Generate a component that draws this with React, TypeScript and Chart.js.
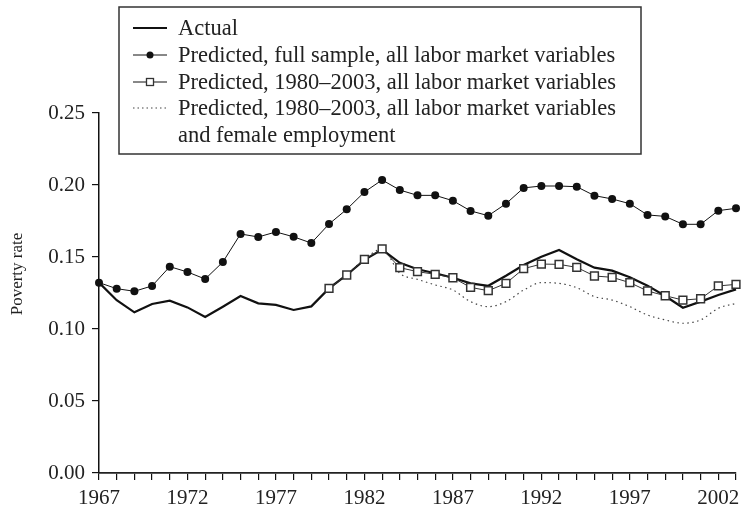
import { useEffect, useRef } from 'react';
import { Chart, registerables } from 'chart.js';

Chart.register(...registerables);

const years = [
  '1967', '1968', '1969', '1970', '1971', '1972', '1973', '1974', '1975', '1976',
  '1977', '1978', '1979', '1980', '1981', '1982', '1983', '1984', '1985', '1986',
  '1987', '1988', '1989', '1990', '1991', '1992', '1993', '1994', '1995', '1996',
  '1997', '1998', '1999', '2000', '2001', '2002', '2003',
];

const actual = [
  0.1322, 0.120, 0.1116, 0.1174, 0.1197, 0.115, 0.1083, 0.1155, 0.1229, 0.1178,
  0.1167, 0.1132, 0.1157, 0.1282, 0.1375, 0.148, 0.1552, 0.146, 0.1415, 0.1387,
  0.1356, 0.1317, 0.130, 0.137, 0.1444, 0.1502, 0.1549, 0.1484, 0.1426, 0.1405,
  0.1359, 0.1301, 0.1229, 0.1148, 0.119, 0.1236, 0.1275,
];

const fullSample = [
  0.1322, 0.128, 0.1262, 0.1299, 0.1433, 0.1396, 0.1347, 0.1465, 0.166, 0.1639,
  0.1674, 0.164, 0.1597, 0.1729, 0.1831, 0.1951, 0.2035, 0.1965, 0.1928, 0.1928,
  0.1891, 0.182, 0.1787, 0.187, 0.198, 0.1993, 0.1993, 0.1988, 0.1926, 0.1903,
  0.187, 0.1792, 0.1782, 0.1727, 0.1727, 0.1822, 0.1838,
];

const sample8003 = [
  null, null, null, null, null, null, null, null, null, null,
  null, null, null, 0.1282, 0.1375, 0.1484, 0.1556, 0.1426, 0.1398, 0.138,
  0.1356, 0.1289, 0.1266, 0.1317, 0.1419, 0.1451, 0.1449, 0.1428, 0.1368, 0.1359,
  0.1322, 0.1264, 0.1231, 0.1201, 0.121, 0.1299, 0.131,
];

const femaleEmp = [
  null, null, null, null, null, null, null, null, null, null,
  null, null, null, 0.1282, 0.1375, 0.1484, 0.1556, 0.1387, 0.1345, 0.1306,
  0.1271, 0.119, 0.1155, 0.119, 0.127, 0.1322, 0.1317, 0.1287, 0.1225, 0.1201,
  0.1155, 0.1097, 0.1063, 0.104, 0.1063, 0.1144, 0.1178,
];

const legendLabels = [
  ['Actual'],
  ['Predicted, full sample, all labor market variables'],
  ['Predicted, 1980\u20132003, all labor market variables'],
  ['Predicted, 1980\u20132003, all labor market variables', 'and female employment'],
];

const yTitle = 'Poverty rate';
const yMin = 0;
const yMax = 0.25;
const yStep = 0.05;
const xLabelEvery = 5;

const FONT = '"Liberation Serif", "Times New Roman", serif';

const overlayPlugin = {
  id: 'overlay',
  afterDraw(chart: any) {
    const ctx = chart.ctx as CanvasRenderingContext2D;
    // y-axis title
    ctx.save();
    ctx.translate(18, 274);
    ctx.rotate(-Math.PI / 2);
    ctx.font = `17px ${FONT}`;
    ctx.textAlign = 'center';
    ctx.textBaseline = 'middle';
    ctx.fillStyle = '#222';
    ctx.fillText(yTitle, 0, 0);
    ctx.restore();

    // legend box
    ctx.save();
    const bx = 119, by = 7, bw = 522, bh = 147;
    ctx.fillStyle = '#fff';
    ctx.fillRect(bx, by, bw, bh);
    ctx.strokeStyle = '#333';
    ctx.lineWidth = 1.5;
    ctx.strokeRect(bx, by, bw, bh);

    const rows = [28, 55, 82, 108];
    const lineGap = 27;
    const sx0 = 133, sx1 = 167, sc = 150;
    ctx.font = `22.5px ${FONT}`;
    ctx.textAlign = 'left';
    ctx.textBaseline = 'middle';
    legendLabels.forEach((lines, i) => {
      const y = rows[i];
      ctx.save();
      ctx.beginPath();
      if (i === 0) {
        ctx.strokeStyle = '#111';
        ctx.lineWidth = 2;
      } else if (i === 1 || i === 2) {
        ctx.strokeStyle = '#111';
        ctx.lineWidth = 1;
      } else {
        ctx.strokeStyle = '#444';
        ctx.lineWidth = 1.2;
        ctx.setLineDash([1.5, 3]);
      }
      ctx.moveTo(sx0, y);
      ctx.lineTo(sx1, y);
      ctx.stroke();
      ctx.setLineDash([]);
      if (i === 1) {
        ctx.beginPath();
        ctx.fillStyle = '#111';
        ctx.arc(sc, y, 3.5, 0, Math.PI * 2);
        ctx.fill();
      } else if (i === 2) {
        ctx.fillStyle = '#fff';
        ctx.strokeStyle = '#333';
        ctx.lineWidth = 1.3;
        ctx.fillRect(sc - 3.5, y - 3.5, 7, 7);
        ctx.strokeRect(sc - 3.5, y - 3.5, 7, 7);
      }
      ctx.restore();
      ctx.fillStyle = '#222';
      lines.forEach((t, j) => ctx.fillText(t, 178, y + 1 + j * lineGap));
    });
    ctx.restore();
  },
};

export default function App() {
  const ref = useRef<HTMLCanvasElement | null>(null);

  useEffect(() => {
    if (!ref.current) return;
    const chart = new Chart(ref.current, {
      type: 'line',
      data: {
        labels: years,
        datasets: [
          {
            label: legendLabels[0].join(' '),
            data: actual,
            borderColor: '#111',
            borderWidth: 2.2,
            pointRadius: 0,
            tension: 0,
            order: 3,
          },
          {
            label: legendLabels[1].join(' '),
            data: fullSample,
            borderColor: '#111',
            borderWidth: 1,
            pointRadius: 4,
            pointStyle: 'circle',
            pointBackgroundColor: '#111',
            pointBorderColor: '#111',
            pointBorderWidth: 0,
            tension: 0,
            order: 1,
          },
          {
            label: legendLabels[2].join(' '),
            data: sample8003,
            borderColor: '#333',
            borderWidth: 1,
            pointRadius: 5.5,
            pointStyle: 'rect',
            pointBackgroundColor: '#fff',
            pointBorderColor: '#333',
            pointBorderWidth: 1.5,
            tension: 0,
            spanGaps: false,
            order: 2,
          },
          {
            label: legendLabels[3].join(' '),
            data: femaleEmp,
            borderColor: '#444',
            borderWidth: 1.2,
            borderDash: [1.5, 3.5],
            pointRadius: 0,
            tension: 0.4,
            cubicInterpolationMode: 'monotone',
            spanGaps: false,
            order: 4,
          },
        ],
      },
      options: {
        animation: false,
        responsive: false,
        maintainAspectRatio: false,
        layout: { padding: { top: 113, right: 5, left: 0, bottom: 0 } },
        plugins: {
          legend: { display: false },
          tooltip: { enabled: false },
          title: { display: false },
        },
        scales: {
          x: {
            type: 'category',
            offset: false,
            afterFit(scale: any) {
              scale.height = 39;
            },
            grid: {
              display: true,
              drawOnChartArea: false,
              drawTicks: true,
              tickLength: 7,
              color: '#111',
              lineWidth: 1.2,
            },
            border: { display: true, color: '#222', width: 1.8 },
            ticks: {
              autoSkip: false,
              maxRotation: 0,
              minRotation: 0,
              padding: 6,
              color: '#222',
              font: { family: FONT, size: 21 },
              callback: (_v: any, i: number) => (i % xLabelEvery === 0 ? years[i] : ''),
            },
          },
          y: {
            min: yMin,
            max: yMax,
            afterFit(scale: any) {
              scale.width = 99;
            },
            grid: {
              display: true,
              drawOnChartArea: false,
              drawTicks: true,
              tickLength: 7,
              color: '#111',
              lineWidth: 1.2,
            },
            border: { display: true, color: '#111', width: 1.5 },
            ticks: {
              stepSize: yStep,
              padding: 7,
              color: '#222',
              font: { family: FONT, size: 21 },
              callback: (v: any) => Number(v).toFixed(2),
            },
          },
        },
      },
      plugins: [overlayPlugin],
    });
    return () => chart.destroy();
  }, []);

  return (
    <div style={{ position: 'fixed', left: 0, top: 0, width: 743, height: 512, background: '#fff' }}>
      <canvas ref={ref} width={743} height={512} style={{ width: 743, height: 512, display: 'block' }} />
    </div>
  );
}
